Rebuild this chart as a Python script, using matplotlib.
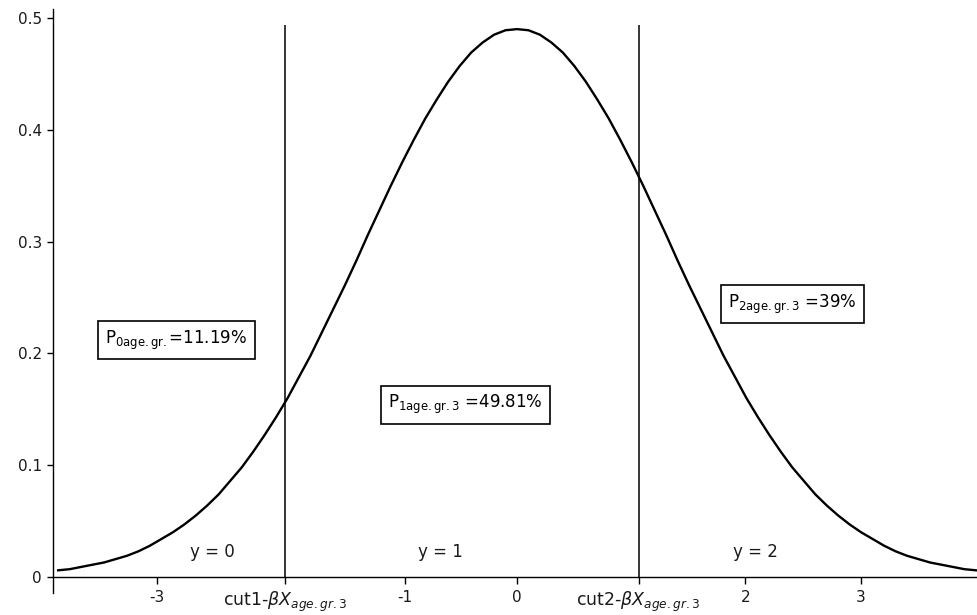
import numpy as np
import matplotlib.pyplot as plt

# curve (latent density), step 0.1
x_vals = [round(-4.0 + 0.1 * i, 1) for i in range(81)]
half = [0.006, 0.007, 0.009, 0.011, 0.013, 0.016, 0.019, 0.023, 0.028, 0.034,
        0.040, 0.047, 0.055, 0.064, 0.074, 0.086, 0.098, 0.112, 0.127, 0.143,
        0.160, 0.179, 0.198, 0.219, 0.240, 0.261, 0.283, 0.306, 0.328, 0.350,
        0.371, 0.391, 0.410, 0.427, 0.443, 0.457, 0.469, 0.478, 0.485, 0.489]
peak = 0.490
y_vals = half + [peak] + half[::-1]

# thresholds
cuts = [-2.02, 1.06]

# tick labels on x axis
x_ticks = [-3.14, -2.02, -0.98, 0.0, 1.06, 1.99, 3.0]
x_ticklabels = ['-3', r'cut1-$\beta X_{age.gr.3}$', '-1', '0',
                r'cut2-$\beta X_{age.gr.3}$', '2', '3']
y_ticks = [0, 0.1, 0.2, 0.3, 0.4, 0.5]
y_ticklabels = ['0', '0.1', '0.2', '0.3', '0.4', '0.5']

# category labels and probability boxes
cat_labels = ['y = 0', 'y = 1', 'y = 2']
cat_x = [-2.66, -0.67, 2.075]
prob_labels = [r'P$_{\mathrm{0age.gr.}}$=11.19%',
               r'P$_{\mathrm{1age.gr.3}}$ =49.81%',
               r'P$_{\mathrm{2age.gr.3}}$ =39%']
prob_x = [-2.97, -0.45, 2.40]
prob_y = [0.212, 0.154, 0.244]

plt.rcParams['font.family'] = 'DejaVu Sans'
plt.rcParams['font.size'] = 11

fig = plt.figure(figsize=(9.77, 6.15), dpi=100)
ax = fig.add_axes([53 / 977, 22 / 615, 924 / 977, 584 / 615])

ax.plot(x_vals, y_vals, color='black', lw=1.7)
ax.vlines(cuts, 0, 0.494, color='black', lw=1.1)

ax.set_xlim(-4.045, 4.01)
ax.set_ylim(-0.0143, 0.508)

ax.spines['top'].set_visible(False)
ax.spines['right'].set_visible(False)
ax.spines['bottom'].set_position(('data', 0))
for s in ['left', 'bottom']:
    ax.spines[s].set_linewidth(1.0)

ax.set_xticks(x_ticks)
ax.set_xticklabels(x_ticklabels)
ax.set_yticks(y_ticks)
ax.set_yticklabels(y_ticklabels)
ax.tick_params(axis='x', direction='out', length=5, width=1, pad=4,
               labelsize=11, labelcolor='#1a1a1a')
ax.tick_params(axis='y', direction='out', length=4, width=1, pad=4,
               labelsize=11, labelcolor='#1a1a1a')
for lab in ax.get_xticklabels():
    if 'cut' in lab.get_text():
        lab.set_fontsize(12.5)

for lab, xx in zip(cat_labels, cat_x):
    ax.text(xx, 0.0224, lab, ha='center', va='center', fontsize=12,
            color='#1a1a1a')

for lab, xx, yy in zip(prob_labels, prob_x, prob_y):
    ax.text(xx, yy, lab, ha='center', va='center', fontsize=12,
            bbox=dict(boxstyle='square,pad=0.45', fc='white', ec='black', lw=1.2))

fig.savefig('out.png', dpi=100)
